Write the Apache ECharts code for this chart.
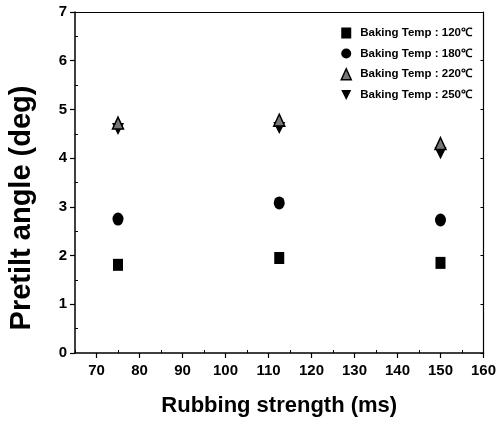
<!DOCTYPE html>
<html>
<head>
<meta charset="utf-8">
<script src="https://cdn.jsdelivr.net/npm/echarts@6/dist/echarts.min.js"></script>
<style>html,body{margin:0;padding:0;background:#fff}#c{width:499px;height:426px}</style>
</head>
<body>
<div id="c"></div>
<script>
const xValues = [75, 112.5, 150];
const temp120 = [1.81, 1.95, 1.85];
const temp180 = [2.75, 3.08, 2.73];
const temp220 = [4.72, 4.78, 4.3];
const temp250 = [4.6, 4.62, 4.1];
const seriesNames = ['Baking Temp : 120\u2103', 'Baking Temp : 180\u2103', 'Baking Temp : 220\u2103', 'Baking Temp : 250\u2103'];
const xMajorTicks = [70, 80, 90, 100, 110, 120, 130, 140, 150, 160];
const xMinorTicks = [65, 75, 85, 95, 105, 115, 125, 135, 145, 155];
const yTicks = [0, 1, 2, 3, 4, 5, 6, 7];
const yMinorTicks = [0.5, 1.5, 2.5, 3.5, 4.5, 5.5, 6.5];
const xTitle = 'Rubbing strength (ms)';
const yTitle = 'Pretilt angle (deg)';

const downTri = 'path://M0,0 L10,0 L5,10 Z';
const pairs = arr => xValues.map((x, i) => [x, arr[i]]);
const labelFont = {fontFamily: 'Liberation Sans, Arial, sans-serif', fontWeight: 'bold', fontSize: 15, color: '#000'};

const chart = echarts.init(document.getElementById('c'), null, {renderer: 'canvas'});
chart.setOption({
  animation: false,
  backgroundColor: '#fff',
  grid: {left: 75, right: 11, top: 12, bottom: 73},
  legend: {
    orient: 'vertical', right: 22, top: 22, itemGap: 8.5, itemWidth: 10, itemHeight: 11,
    textStyle: {fontFamily: 'Liberation Sans, Arial, sans-serif', fontWeight: 'bold', fontSize: 11.5, color: '#000', padding: [0, 0, 0, 4]},
    data: [
      {name: seriesNames[0], icon: 'rect'},
      {name: seriesNames[1], icon: 'circle'},
      {name: seriesNames[2], icon: 'triangle', itemStyle: {color: '#777', borderColor: '#000', borderWidth: 1.5}},
      {name: seriesNames[3], icon: downTri}
    ]
  },
  graphic: [{
    type: 'text', rotation: Math.PI / 2,
    x: 22, y: 208,
    style: {text: yTitle, fontFamily: 'Liberation Sans, Arial, sans-serif', fontWeight: 'bold', fontSize: 29, fill: '#000', align: 'center', verticalAlign: 'middle'}
  }],
  xAxis: [{
    type: 'value', min: 65, max: 160, position: 'bottom',
    name: xTitle, nameLocation: 'middle', nameGap: 42,
    nameTextStyle: {fontFamily: 'Liberation Sans, Arial, sans-serif', fontWeight: 'bold', fontSize: 22, color: '#000'},
    axisLine: {show: true, onZero: false, lineStyle: {color: '#000', width: 1.5}},
    axisTick: {show: true, inside: false, length: 5, customValues: xMajorTicks, lineStyle: {color: '#000', width: 1.2}},
    axisLabel: Object.assign({customValues: xMajorTicks, margin: 10}, labelFont),
    splitLine: {show: false}
  }, {
    type: 'value', min: 65, max: 160, position: 'bottom',
    axisLine: {show: false},
    axisTick: {show: true, inside: true, length: 3, customValues: xMinorTicks, lineStyle: {color: '#000', width: 1}},
    axisLabel: {show: false}, splitLine: {show: false}
  }, {
    type: 'value', min: 65, max: 160, position: 'top',
    axisLine: {show: true, onZero: false, lineStyle: {color: '#000', width: 1.2}},
    axisTick: {show: false}, axisLabel: {show: false}, splitLine: {show: false}
  }],
  yAxis: [{
    type: 'value', min: 0, max: 7, interval: 1, position: 'left',
    axisLine: {show: true, onZero: false, lineStyle: {color: '#000', width: 1.5}},
    axisTick: {show: true, inside: false, length: 5, customValues: yTicks, lineStyle: {color: '#000', width: 1.2}},
    axisLabel: Object.assign({customValues: yTicks, margin: 8}, labelFont),
    splitLine: {show: false}
  }, {
    type: 'value', min: 0, max: 7, position: 'left',
    axisLine: {show: false},
    axisTick: {show: true, inside: true, length: 3, customValues: yMinorTicks, lineStyle: {color: '#000', width: 1}},
    axisLabel: {show: false}, splitLine: {show: false}
  }, {
    type: 'value', min: 0, max: 7, position: 'right',
    axisLine: {show: true, onZero: false, lineStyle: {color: '#000', width: 1.2}},
    axisTick: {show: true, inside: true, length: 3, customValues: yTicks, lineStyle: {color: '#000', width: 1}},
    axisLabel: {show: false}, splitLine: {show: false}
  }],
  series: [
    {name: seriesNames[0], type: 'scatter', symbol: 'rect', symbolSize: [10, 12], data: pairs(temp120), itemStyle: {color: '#000', opacity: 1}},
    {name: seriesNames[1], type: 'scatter', symbol: 'circle', symbolSize: [11, 13], data: pairs(temp180), itemStyle: {color: '#000', opacity: 1}},
    {name: seriesNames[3], type: 'scatter', symbol: downTri, symbolSize: [12, 12], data: pairs(temp250), itemStyle: {color: '#000', opacity: 1}},
    {name: seriesNames[2], type: 'scatter', symbol: 'triangle', symbolSize: [11, 12], data: pairs(temp220), itemStyle: {color: '#777', borderColor: '#000', borderWidth: 1.5, opacity: 1}}
  ]
});
</script>
</body>
</html>
